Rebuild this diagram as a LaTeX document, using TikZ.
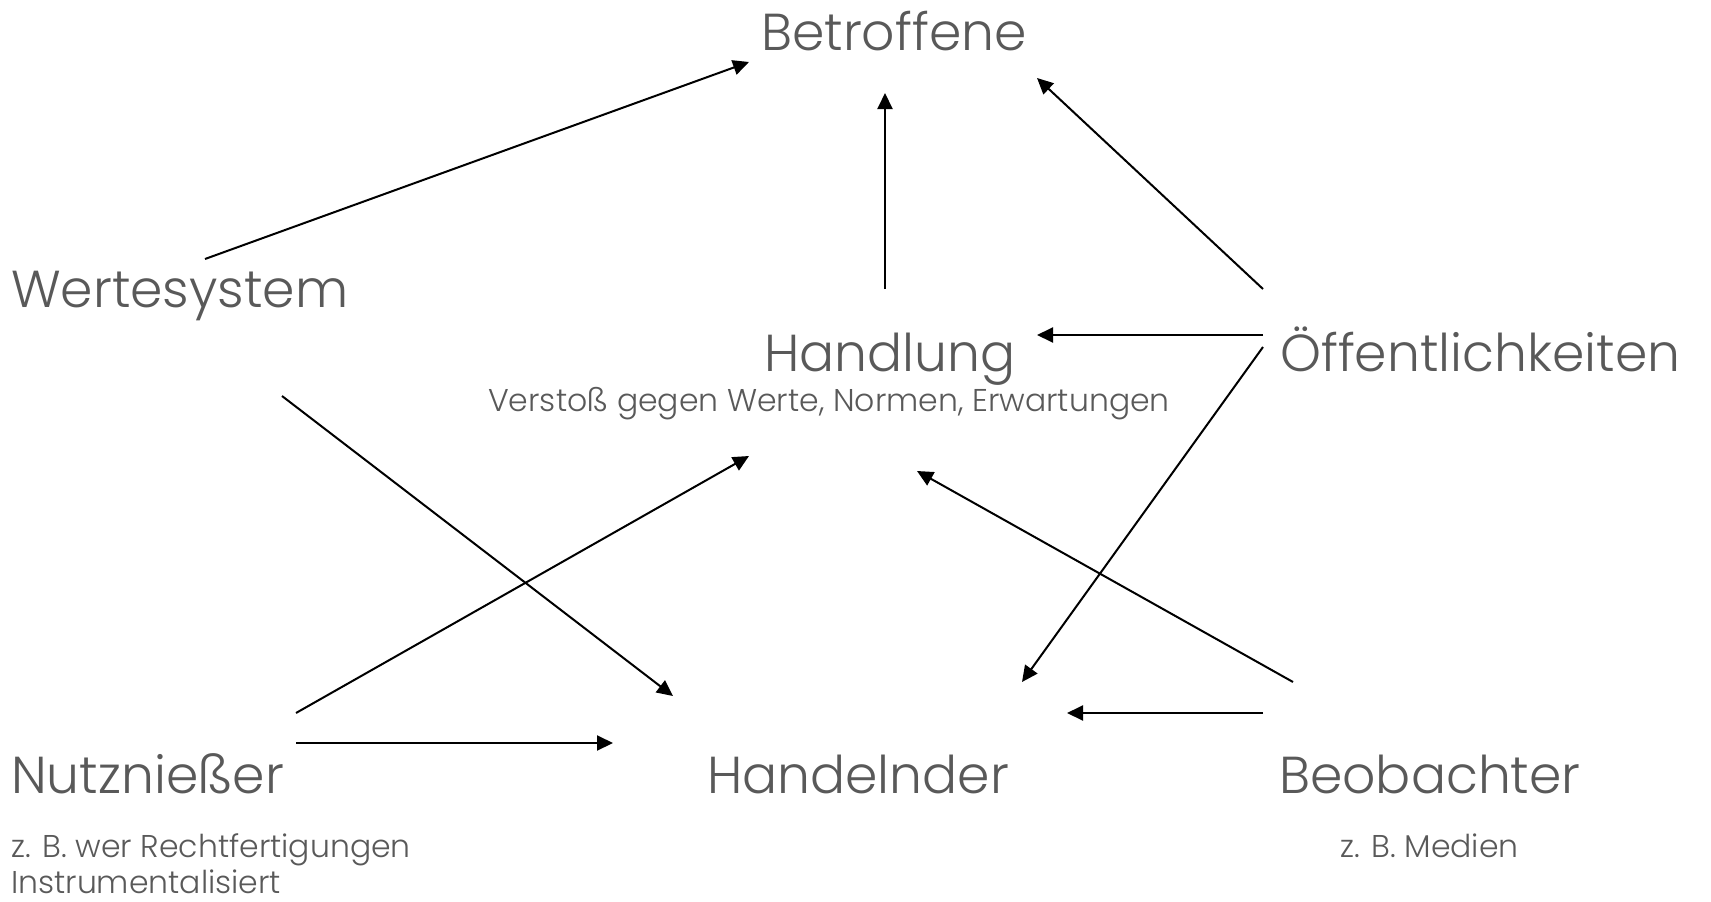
\documentclass[tikz,border=0pt]{standalone}
\usepackage{fontspec}
\setmainfont{Poppins}[UprightFont=* Light]
\usepackage{tikz}
\usetikzlibrary{calc}
\usetikzlibrary{arrows,arrows.meta,positioning}
\definecolor{txtgray}{HTML}{595959}
\tikzset{>={Triangle[length=16pt,width=15pt]}}
\tikzset{
  big/.style={anchor=base west, inner sep=0pt, text=txtgray, font=\fontsize{52}{60}\selectfont},
  small/.style={anchor=base west, inner sep=0pt, text=txtgray, font=\fontsize{31.5}{36}\selectfont},
  pfeil/.style={->, line width=2pt}
}

\begin{document}
\begin{tikzpicture}[x=1pt, y=-1pt]
          \useasboundingbox (0,0) rectangle (1711,902);
          % Akteure
          \node[big] (betr) at (761,50) {Betroffene};
          \node[big] (wert) at (11,307) {Wertesystem};
          \node[big] (hand) at (764,371) {Handlung};
          \node[small] (verst) at (488,411) {Verstoß gegen Werte, Normen, Erwartungen};
          \node[big] (oeff) at (1280,371) {Öffentlichkeiten};
          \node[big] (nutz) at (11,793) {Nutznießer};
          \node[big] (handl) at (707,793) {Handelnder};
          \node[big] (beob) at (1279,793) {Beobachter};
          \node[small] (nutza) at (11,857) {z. B. wer Rechtfertigungen};
          \node[small] (nutzb) at (11,893) {Instrumentalisiert};
          \node[small] (medien) at (1340,857) {z. B. Medien};
          % Pfeile
          \draw[pfeil] ([shift={(194,-48)}]wert.base west) -- ([shift={(-12,12)}]betr.base west);
          \draw[pfeil] ([shift={(121,-82)}]hand.base west) -- ([shift={(124,43)}]betr.base west);
          \draw[pfeil] ([shift={(-17,-82)}]oeff.base west) -- ([shift={(276,28)}]betr.base west);
          \draw[pfeil] ([shift={(-17,-36)}]oeff.base west) -- ([shift={(273,-36)}]hand.base west);
          \draw[pfeil] ([shift={(-17,-24)}]oeff.base west) -- ([shift={(315,-111)}]handl.base west);
          \draw[pfeil] ([shift={(271,89)}]wert.base west) -- ([shift={(-34,-97)}]handl.base west);
          \draw[pfeil] ([shift={(285,-80)}]nutz.base west) -- ([shift={(-15,85)}]hand.base west);
          \draw[pfeil] ([shift={(285,-50)}]nutz.base west) -- ([shift={(-94,-50)}]handl.base west);
          \draw[pfeil] ([shift={(14,-111)}]beob.base west) -- ([shift={(153,100)}]hand.base west);
          \draw[pfeil] ([shift={(-16,-80)}]beob.base west) -- ([shift={(360,-80)}]handl.base west);
        \end{tikzpicture}
\end{document}
